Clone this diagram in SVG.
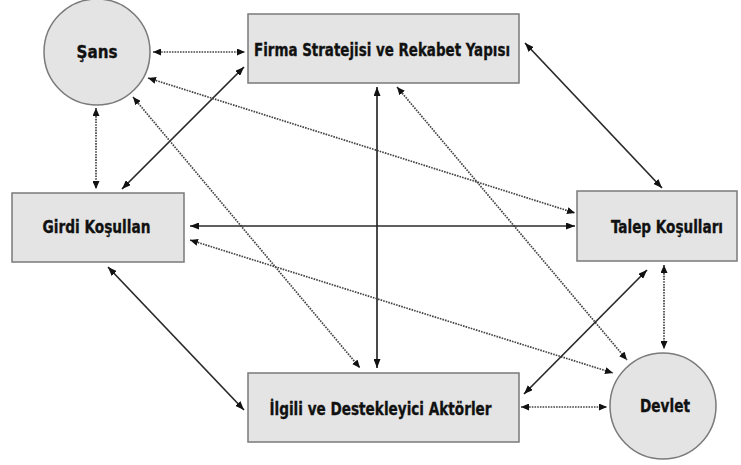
<svg xmlns="http://www.w3.org/2000/svg" width="741" height="465" viewBox="0 0 741 465">
  <style>
    .box { fill: #e4e4e4; stroke: #7a7a7a; stroke-width: 1.5; }
    .lbl { font-family: "DejaVu Sans Condensed", "DejaVu Sans", "Liberation Sans", sans-serif; font-weight: bold; font-size: 18.5px; fill: #111; stroke: #111; stroke-width: 0.35; text-anchor: middle; }
    .solid { stroke: #2a2a2a; stroke-width: 1.7; fill: none; marker-start: url(#arrS); marker-end: url(#arrS); }
    .dot { stroke: #444; stroke-width: 1.7; stroke-dasharray: 1.6 1.1; fill: none; marker-start: url(#arrD); marker-end: url(#arrD); }
  </style>
  <defs>
    <marker id="arrS" viewBox="0 0 9 7" refX="9" refY="3.5" markerWidth="9" markerHeight="7" markerUnits="userSpaceOnUse" orient="auto-start-reverse">
      <path d="M0,0 L9,3.5 L0,7 z" fill="#111"/>
    </marker>
    <marker id="arrD" viewBox="0 0 8 7" refX="8" refY="3.5" markerWidth="8" markerHeight="7" markerUnits="userSpaceOnUse" orient="auto-start-reverse">
      <path d="M0,0 L8,3.5 L0,7 z" fill="#111"/>
    </marker>
  </defs>

  <rect width="741" height="465" fill="#ffffff"/>

  <!-- connectors -->
  <g id="connectors">
    <line class="dot" x1="153" y1="52" x2="245" y2="52"/>
    <line class="dot" x1="96" y1="108" x2="96" y2="189"/>
    <line class="solid" x1="122" y1="189" x2="244" y2="67"/>
    <line class="dot" x1="148" y1="78" x2="575" y2="213"/>
    <line class="dot" x1="133" y1="97" x2="360" y2="368"/>
    <line class="solid" x1="377" y1="87" x2="377" y2="368"/>
    <line class="dot" x1="397" y1="87" x2="627" y2="360"/>
    <line class="solid" x1="525" y1="43" x2="662" y2="188"/>
    <line class="solid" x1="190" y1="226" x2="575" y2="226"/>
    <line class="dot" x1="190" y1="240" x2="613" y2="373"/>
    <line class="solid" x1="108" y1="267" x2="244" y2="410"/>
    <line class="solid" x1="647" y1="270" x2="524" y2="394"/>
    <line class="dot" x1="664" y1="265" x2="664" y2="349"/>
    <line class="dot" x1="521" y1="407" x2="607" y2="407"/>
  </g>

  <!-- nodes -->
  <g id="sans">
    <circle class="box" cx="97" cy="52" r="53"/>
    <text class="lbl" x="97" y="58" textLength="41" lengthAdjust="spacingAndGlyphs">Şans</text>
  </g>
  <g id="firma">
    <rect class="box" x="248" y="14" width="271" height="69"/>
    <text class="lbl" x="382" y="56" textLength="256" lengthAdjust="spacingAndGlyphs">Firma Stratejisi ve Rekabet Yapısı</text>
  </g>
  <g id="girdi">
    <rect class="box" x="12" y="193" width="172" height="69"/>
    <text class="lbl" x="96.5" y="233" textLength="108" lengthAdjust="spacingAndGlyphs">Girdi Koşullan</text>
  </g>
  <g id="talep">
    <rect class="box" x="577" y="191" width="160" height="70"/>
    <text class="lbl" x="667" y="233" textLength="112" lengthAdjust="spacingAndGlyphs">Talep Koşulları</text>
  </g>
  <g id="ilgili">
    <rect class="box" x="248" y="373" width="271" height="69"/>
    <text class="lbl" x="380.5" y="415" textLength="222" lengthAdjust="spacingAndGlyphs">İlgili ve Destekleyici Aktörler</text>
  </g>
  <g id="devlet">
    <circle class="box" cx="663" cy="406" r="53"/>
    <text class="lbl" x="665" y="412" textLength="50" lengthAdjust="spacingAndGlyphs">Devlet</text>
  </g>
</svg>
